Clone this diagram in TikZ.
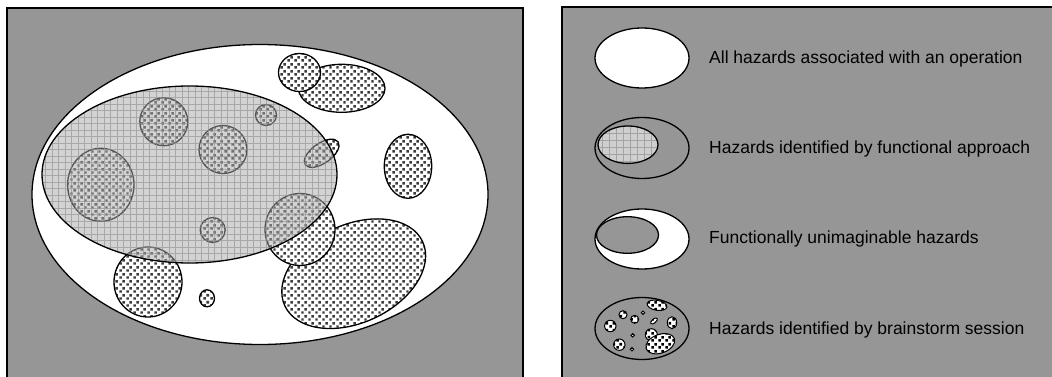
\documentclass[tikz,border=0pt]{standalone}
\usepackage{fontspec}
\setmainfont{Liberation Sans}
\usepackage{xcolor}
\usepackage{tikz}
\usetikzlibrary{patterns.meta}

\definecolor{panelgray}{HTML}{969696}
\definecolor{shadegray}{HTML}{A8A8A8}
\definecolor{lightgrid}{HTML}{CFCFCF}
\definecolor{gridline}{HTML}{8C8C8C}
\definecolor{dotgray}{HTML}{3C3C3C}

\tikzdeclarepattern{
  name=hazdots,
  type=uncolored,
  bottom left={(0pt,0pt)},
  top right={(7pt,7pt)},
  tile size={(7pt,7pt)},
  code={
    \fill (0.3pt,0.3pt) rectangle (3.1pt,3.1pt);
    \fill (3.8pt,3.8pt) rectangle (6.6pt,6.6pt);
  }
}

\begin{document}
\begin{tikzpicture}[
  x=1pt, y=-1pt,
  panel/.style={draw, line width=2pt, fill=panelgray},
  outer/.style={draw, line width=1.3pt, fill=white},
  haz/.style={draw, line width=1.3pt, preaction={fill=white},
              pattern=hazdots, pattern color=dotgray},
  minihaz/.style={draw, line width=1pt, preaction={fill=white},
                  pattern=hazdots, pattern color=black},
  lbl/.style={anchor=base west, inner sep=0pt, text=black,
              font=\fontsize{17.5}{21}\selectfont},
]
\useasboundingbox (0,0) rectangle (1052,377);
\clip (0,0) rectangle (1052,377);

% panels
\draw[panel] (7,8) rectangle (523,400);
\draw[panel] (562,7) rectangle (1070,400);

% all hazards
\draw[outer] (260,194.5) ellipse [x radius=228, y radius=150];

% brainstorm hazards
\draw[haz] (341.7,88.3) ellipse [x radius=43.3, y radius=24];
\draw[haz] (299.5,72.5) ellipse [x radius=21, y radius=19];
\draw[haz, shift={(353.7,273.7)}, rotate=25] (0,0) ellipse [x radius=76, y radius=49];
\draw[haz] (300,229.5) ellipse [x radius=35, y radius=36];
\draw[haz] (163.8,121.7) circle [radius=24];
\draw[haz] (266,115) circle [radius=10.5];
\draw[haz] (223,149.5) circle [radius=24];
\draw[haz, shift={(321.7,153.3)}, rotate=35] (0,0) ellipse [x radius=20, y radius=10];
\draw[haz] (408,166.3) ellipse [x radius=23.7, y radius=32];
\draw[haz] (100.8,184.8) ellipse [x radius=33.2, y radius=36.5];
\draw[haz] (212.7,230) circle [radius=12.5];
\draw[haz] (148,282) ellipse [x radius=34, y radius=35];
\draw[haz] (207,298.3) ellipse [x radius=7.5, y radius=8.5];

% functional approach (shaded grid)
\begin{scope}
  \clip (189.5,174.5) ellipse [x radius=147.5, y radius=88.5];
  \fill[shadegray, fill opacity=0.5] (40,84) rectangle (340,265);
  \draw[gridline, opacity=0.6, line width=0.7pt, step=6.5pt] (40,84) grid (340,265);
\end{scope}
\draw[line width=1.3pt] (189.5,174.5) ellipse [x radius=147.5, y radius=88.5];

% legend
\draw[outer] (642,58) ellipse [x radius=47, y radius=30];
\node[lbl] (allhaz) at (709,63.3) {All hazards associated with an operation};

\draw[line width=1.3pt] (642,148) ellipse [x radius=47, y radius=30.5];
\begin{scope}
  \clip (628,144.7) ellipse [x radius=30, y radius=18.7];
  \fill[lightgrid] (596,124) rectangle (660,166);
  \draw[gridline!80, line width=0.6pt, step=7pt] (596,124) grid (660,166);
\end{scope}
\draw[line width=1.3pt] (628,144.7) ellipse [x radius=30, y radius=18.7];
\node[lbl] (funchaz) at (709,153.3) {Hazards identified by functional approach};

\draw[outer] (642,239) ellipse [x radius=47, y radius=30];
\draw[line width=1.3pt, fill=panelgray] (627.5,235) ellipse [x radius=31, y radius=18.3];
\node[lbl] (unimag) at (709,243.3) {Functionally unimaginable hazards};

\draw[line width=1.3pt] (642,328.5) ellipse [x radius=47, y radius=31];
\draw[minihaz, shift={(657,305.3)}, rotate=-10] (0,0) ellipse [x radius=10, y radius=5];
\draw[minihaz] (623,314.7) circle [radius=4];
\draw[minihaz] (634.7,319.3) circle [radius=4];
\draw[minihaz] (643,312.7) circle [radius=1.7];
\draw[minihaz, shift={(654,321)}, rotate=40] (0,0) ellipse [x radius=4, y radius=2];
\draw[minihaz] (610.3,326) circle [radius=5.7];
\draw[minihaz] (672,322.7) ellipse [x radius=4.7, y radius=6];
\draw[minihaz] (632.7,335.3) circle [radius=1.7];
\draw[minihaz] (651.3,334.7) circle [radius=6];
\draw[minihaz, shift={(660.3,343.7)}, rotate=20] (0,0) ellipse [x radius=15, y radius=9.3];
\draw[minihaz] (619.3,344.7) circle [radius=5.7];
\draw[minihaz] (632,349.3) circle [radius=1.7];
\node[lbl] (brainhaz) at (709,334.3) {Hazards identified by brainstorm session};
\end{tikzpicture}
\end{document}
